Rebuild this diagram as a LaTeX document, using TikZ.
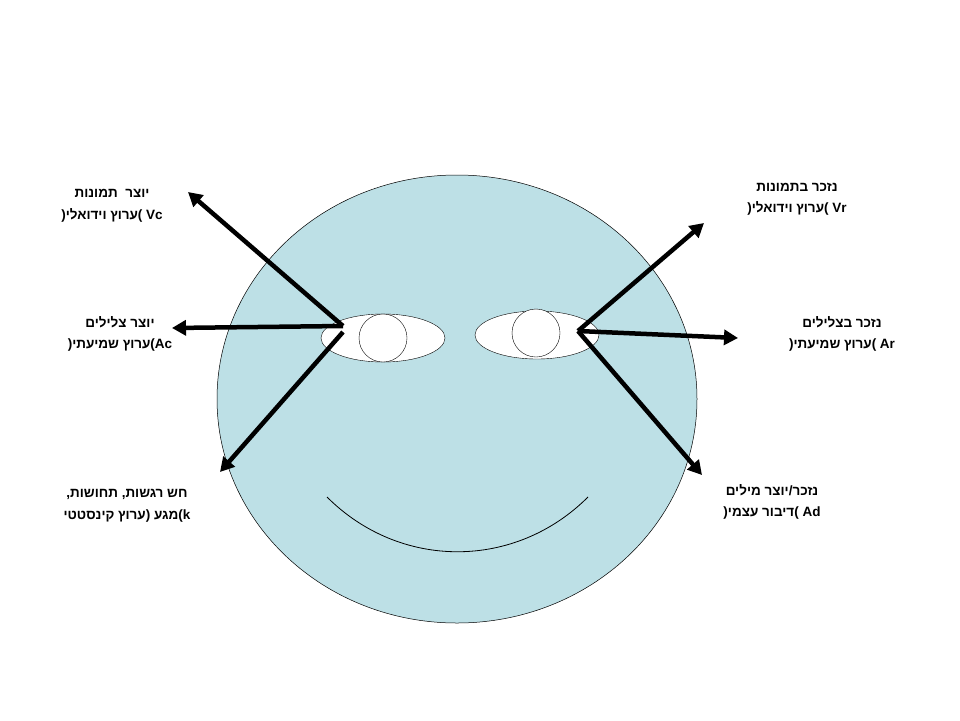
\documentclass[tikz,border=0pt]{standalone}
\usepackage{fontspec}
\setmainfont{Liberation Sans}
\newfontfamily\hebfont[Script=Hebrew]{Liberation Sans}
\TeXXeTstate=1
\usetikzlibrary{arrows.meta,shapes.geometric}
\newcommand\hb[1]{\hbox{#1}}
\begin{document}
\begin{tikzpicture}[x=1pt,y=-1pt,
  lab/.style={align=center,font=\hebfont\bfseries\fontsize{13.5}{21.5}\selectfont,inner sep=0pt},
  arr/.style={line width=4.5pt,-{Triangle[length=14pt,width=15pt]}}]
\useasboundingbox (0,0) rectangle (960,720);
\fill[white] (0,0) rectangle (960,720);
\node[ellipse,draw=black,line width=0.5pt,fill={rgb,255:red,189;green,224;blue,230},minimum width=480,minimum height=448,inner sep=0] (face) at (457,399) {};
\node[ellipse,draw,fill=white,minimum width=124,minimum height=48,inner sep=0] (le) at (383,338) {};
\node[circle,draw,fill=white,minimum size=48,inner sep=0] (lp) at (383,338) {};
\node[ellipse,draw,fill=white,minimum width=124,minimum height=48,inner sep=0] (re) at (537,335) {};
\node[circle,draw,fill=white,minimum size=48,inner sep=0] (rp) at (536,333) {};
\coordinate (m1) at (327,497); \coordinate (m2) at (588,497);
\draw[line width=0.8pt] (m1) .. controls (400,570) and (515,570) .. (m2);
\coordinate (lo) at (343,326); \coordinate (lo2) at (343,332);
\coordinate (ro) at (578,331);
\coordinate (a1) at (188,192); \coordinate (a2) at (172,328); \coordinate (a3) at (220,472);
\coordinate (b1) at (704,223); \coordinate (b2) at (738,338); \coordinate (b3) at (702,475);
\draw[arr] (lo) -- (a1);
\draw[arr] (lo) -- (a2);
\draw[arr] (lo2) -- (a3);
\draw[arr] (ro) -- (b1);
\draw[arr] (ro) -- (b2);
\draw[arr] (ro) -- (b3);
\node[lab] (t1) at (112,206) {\beginR יוצר\ \ תמונות\endR\\\beginR\hb{Vc} \hb{)}ערוץ וידואלי\hb{(}\endR};
\node[lab] (t2) at (120,334) {\beginR יוצר צלילים\endR\\\beginR\hb{Ac}\hb{)}ערוץ שמיעתי\hb{(}\endR};
\node[lab] (t3) at (127,506) {\beginR חש רגשות\hb{,} תחושות\hb{,}\endR\\\beginR\hb{k}\hb{)}מגע \hb{(}ערוץ קינסטטי\endR};
\node[lab] (t4) at (797,199) {\beginR נזכר בתמונות\endR\\\beginR\hb{Vr} \hb{)}ערוץ וידואלי\hb{(}\endR};
\node[lab] (t5) at (842,334) {\beginR נזכר בצלילים\endR\\\beginR\hb{Ar} \hb{)}ערוץ שמיעתי\hb{(}\endR};
\node[lab] (t6) at (772,502) {\beginR נזכר\hb{/}יוצר מילים\endR\\\beginR\hb{Ad} \hb{)}דיבור עצמי\hb{(}\endR};
\end{tikzpicture}
\end{document}
